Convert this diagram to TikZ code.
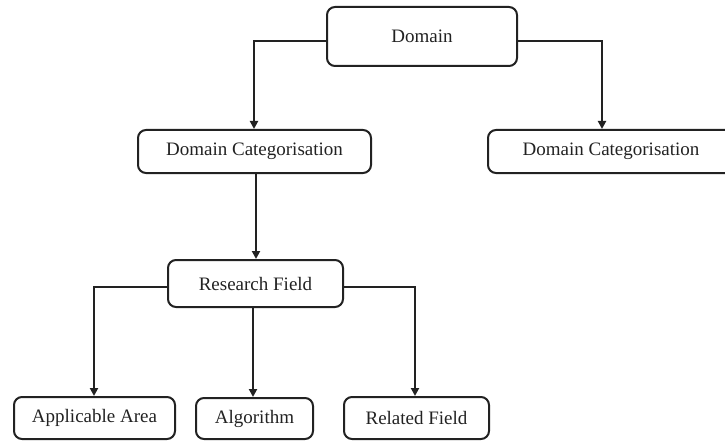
\documentclass[tikz,border=0pt]{standalone}
\usepackage{fontspec}
\setmainfont{Liberation Serif}
\usetikzlibrary{arrows.meta}
\definecolor{ink}{HTML}{222222}
\begin{document}
\begin{tikzpicture}[x=1pt,y=-1pt,
  box/.style={draw=ink, line width=2pt, rounded corners=8pt, inner sep=0pt,
    text=ink, font=\fontsize{19}{22}\selectfont},
  arr/.style={draw=ink, line width=2pt, -{Triangle[length=8pt,width=8pt]}}]
\useasboundingbox (0,0) rectangle (725,441);
\clip (0,0) rectangle (725,441);
\node[box, minimum width=190pt, minimum height=59pt] (dom) at (422,36.5) {Domain};
\node[box, minimum width=233pt, minimum height=43pt] (dcl) at (254.5,151.5) {Domain Categorisation};
\node[box, minimum width=246pt, minimum height=43pt] (dcr) at (611,151.5) {Domain Categorisation};
\node[box, minimum width=175pt, minimum height=47pt] (rf) at (255.5,283.5) {Research Field};
\node[box, minimum width=161pt, minimum height=42pt] (aa) at (94.5,418) {Applicable Area};
\node[box, minimum width=117pt, minimum height=41pt] (alg) at (254.5,418.5) {Algorithm};
\node[box, minimum width=145pt, minimum height=42pt] (rel) at (416.5,418) {Related Field};
\draw[arr] ([yshift=-4.5pt]dom.west) -| ([xshift=-0.5pt]dcl.north);
\draw[arr] ([yshift=-4.5pt]dom.east) -| ([xshift=-9pt]dcr.north);
\draw[arr] ([xshift=0.5pt]rf.north |- dcl.south) -- ([xshift=0.5pt]rf.north);
\draw[arr] ([yshift=-3.5pt]rf.west) -| ([xshift=-0.5pt]aa.north);
\draw[arr] ([xshift=-1.5pt]alg.north |- rf.south) -- ([xshift=-1.5pt]alg.north);
\draw[arr] ([yshift=-3.5pt]rf.east) -| ([xshift=-1.5pt]rel.north);
\end{tikzpicture}
\end{document}
